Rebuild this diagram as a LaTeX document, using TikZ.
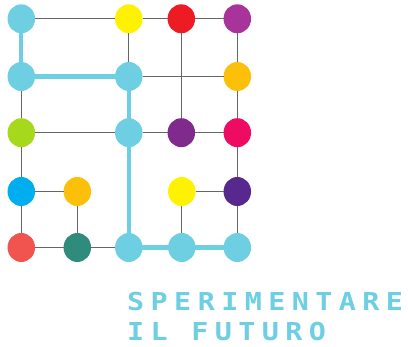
\documentclass[tikz,border=0pt]{standalone}
\usepackage{fontspec}
\usetikzlibrary{shapes.geometric}
\newfontfamily\pixelfont[LetterSpace=26,FakeStretch=1.15]{DejaVu Sans Mono Bold}

\definecolor{skyc}{HTML}{6ECFE3}
\definecolor{yellowc}{HTML}{FFF200}
\definecolor{redc}{HTML}{ED1C24}
\definecolor{plumc}{HTML}{A7339B}
\definecolor{amberc}{HTML}{FDC00A}
\definecolor{limec}{HTML}{A6D81C}
\definecolor{bluec}{HTML}{00AEEF}
\definecolor{coralc}{HTML}{F1544F}
\definecolor{tealc}{HTML}{2F8B7B}
\definecolor{purplec}{HTML}{7F2A8C}
\definecolor{pinkc}{HTML}{EE0C63}
\definecolor{violetc}{HTML}{57298F}

\tikzset{
    dot/.style={ellipse, inner sep=0pt, outer sep=0pt, minimum width=27.5pt, minimum height=29pt},
    thin line/.style={draw=black!60, line width=1.2pt},
    thick line/.style={draw=skyc, line width=4.3pt, line cap=rect},
    title/.style={inner sep=0pt, anchor=base west, text=skyc, font=\pixelfont\fontsize{24.7pt}{24.7pt}\selectfont}
}

\begin{document}
\begin{tikzpicture}[x=1pt, y=-1pt]
    \useasboundingbox (0,0) rectangle (408,347);

    % the dots, row by row
    \node[dot, fill=skyc] (a1) at (21.3,18.8) {};
    \node[dot, fill=yellowc] (b1) at (128.8,18.8) {};
    \node[dot, fill=redc] (c1) at (181.3,18.8) {};
    \node[dot, fill=plumc] (d1) at (237.3,18.8) {};

    \node[dot, fill=skyc] (a2) at (21.3,76.5) {};
    \node[dot, fill=skyc] (b2) at (128.8,76.5) {};
    \node[dot, fill=amberc] (d2) at (237.3,76.5) {};

    \node[dot, fill=limec] (a3) at (21.3,132.7) {};
    \node[dot, fill=skyc] (b3) at (128.8,132.7) {};
    \node[dot, fill=purplec] (c3) at (181.3,132.7) {};
    \node[dot, fill=pinkc] (d3) at (237.3,132.7) {};

    \node[dot, fill=bluec] (a4) at (21.3,191.5) {};
    \node[dot, fill=amberc] (t4) at (77.3,191.5) {};
    \node[dot, fill=yellowc] (c4) at (181.8,191.5) {};
    \node[dot, fill=violetc] (d4) at (237.3,191.5) {};

    \node[dot, fill=coralc] (a5) at (21.3,247.5) {};
    \node[dot, fill=tealc] (t5) at (77.3,247.5) {};
    \node[dot, fill=skyc] (b5) at (128.8,247.5) {};
    \node[dot, fill=skyc] (c5) at (181.8,247.5) {};
    \node[dot, fill=skyc] (d5) at (237.3,247.5) {};

    % the thin lines
    \draw[thin line] (a1) -- (b1);
    \draw[thin line] (b1) -- (c1);
    \draw[thin line] (c1) -- (d1);
    \draw[thin line] (b1) -- (b2);
    \draw[thin line] (c1) -- (c3);
    \draw[thin line] (d1) -- (d2);
    \draw[thin line] (b2) -- (d2);
    \draw[thin line] (d2) -- (d3);
    \draw[thin line] (a2) -- (a3);
    \draw[thin line] (a3) -- (b3);
    \draw[thin line] (b3) -- (c3);
    \draw[thin line] (c3) -- (d3);
    \draw[thin line] (a3) -- (a4);
    \draw[thin line] (d3) -- (d4);
    \draw[thin line] (a4) -- (t4);
    \draw[thin line] (c4) -- (d4);
    \draw[thin line] (a4) -- (a5);
    \draw[thin line] (t4) -- (t5);
    \draw[thin line] (c4) -- (c5);
    \draw[thin line] (d4) -- (d5);
    \draw[thin line] (a5) -- (t5);
    \draw[thin line] (t5) -- (b5);

    % the thick path
    \draw[thick line] (a1) -- (a2);
    \draw[thick line] (a2) -- (b2);
    \draw[thick line] (b2) -- (b3);
    \draw[thick line] (b3) -- (b5);
    \draw[thick line] (b5) -- (c5);
    \draw[thick line] (c5) -- (d5);

    % the texts
    \node[title] (line1) at (127,310.7) {SPERIMENTARE};
    \node[title] (line2) at (127,341) {IL FUTURO};
\end{tikzpicture}
\end{document}
